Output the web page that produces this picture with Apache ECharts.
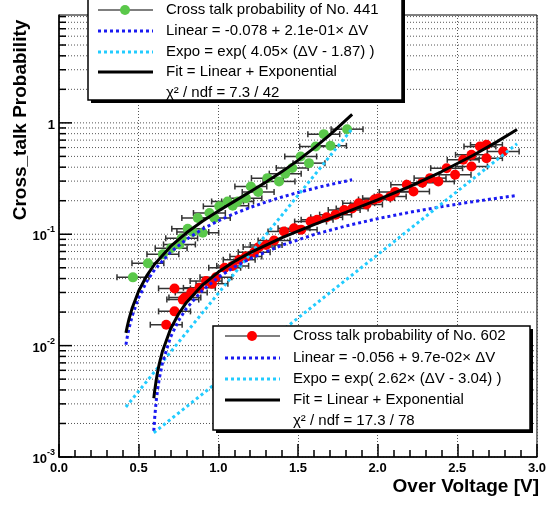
<!DOCTYPE html>
<html>
<head>
<meta charset="utf-8">
<script src="https://cdn.jsdelivr.net/npm/echarts@6/dist/echarts.min.js"></script>
<style>
html, body { margin: 0; padding: 0; background: #fff; }
#chart { width: 549px; height: 505px; }
</style>
</head>
<body>
<div id="chart"></div>
<script>
// axis labels
var xTickLabels = ['0.0', '0.5', '1.0', '1.5', '2.0', '2.5', '3.0'];
var yDecades = [0.001, 0.01, 0.1, 1];
var yDecadeLabels = ['{b|10}{s|-3}', '{b|10}{s|-2}', '{b|10}{s|-1}', '{b|1}'];
var yMax = 9.3;

// measured points [dV, probability], No. 441
var points441 = [
    [0.464, 0.041], [0.558, 0.055], [0.652, 0.066], [0.704, 0.075], [0.756, 0.081],
    [0.770, 0.092], [0.808, 0.112], [0.840, 0.105], [0.871, 0.140], [0.902, 0.103],
    [0.944, 0.155], [0.975, 0.140], [1.006, 0.178], [1.058, 0.197], [1.090, 0.180],
    [1.121, 0.197], [1.173, 0.211], [1.204, 0.268], [1.250, 0.240], [1.308, 0.319],
    [1.381, 0.298], [1.420, 0.350], [1.464, 0.393], [1.517, 0.499], [1.569, 0.435],
    [1.611, 0.613], [1.662, 0.792], [1.704, 0.622], [1.808, 0.878]
];
// measured points, No. 602
var points602 = [
    [0.673, 0.0154], [0.725, 0.0203], [0.725, 0.0326], [0.777, 0.0259], [0.790, 0.0270],
    [0.830, 0.0300], [0.881, 0.0330], [0.923, 0.0380], [0.960, 0.0360], [0.985, 0.0410],
    [1.040, 0.0500], [1.090, 0.0520], [1.131, 0.0590], [1.173, 0.0630], [1.225, 0.0690],
    [1.256, 0.0770], [1.300, 0.0800], [1.350, 0.0880], [1.412, 0.1060], [1.475, 0.1130],
    [1.520, 0.1100], [1.579, 0.1300], [1.620, 0.1350], [1.680, 0.1420], [1.736, 0.1500],
    [1.790, 0.1650], [1.840, 0.1700], [1.881, 0.1900], [1.930, 0.1850], [1.980, 0.2050],
    [2.006, 0.2110], [2.079, 0.2180], [2.110, 0.2400], [2.183, 0.2780], [2.225, 0.2420],
    [2.280, 0.2900], [2.329, 0.3190], [2.381, 0.2980], [2.433, 0.3920], [2.486, 0.3420],
    [2.537, 0.4660], [2.589, 0.4060], [2.589, 0.5160], [2.642, 0.6130], [2.683, 0.6350],
    [2.683, 0.4820], [2.788, 0.5530]
];
var errX441 = 0.1;
var errX602 = 0.1;

// fit curves
var fitX441 = [0.42, 0.43, 0.44, 0.46, 0.50, 0.55, 0.60, 0.70, 0.80, 0.90, 1.00, 1.10, 1.20, 1.30, 1.40, 1.50, 1.60, 1.70, 1.84];
var lin441 = [0.0102, 0.0123, 0.0144, 0.0186, 0.027, 0.0375, 0.048, 0.069, 0.090, 0.111, 0.132, 0.153, 0.174, 0.195, 0.216, 0.237, 0.258, 0.279, 0.3084];
var expo441 = [0.002815, 0.002932, 0.003053, 0.003311, 0.003892, 0.004767, 0.005837, 0.008751, 0.01312, 0.01967, 0.02949, 0.04421, 0.06629, 0.09938, 0.1490, 0.2235, 0.3350, 0.5023, 0.8856];
var fit441 = [0.0130, 0.0152, 0.0175, 0.0219, 0.0309, 0.0423, 0.0538, 0.0778, 0.1031, 0.1307, 0.1615, 0.1972, 0.2403, 0.2944, 0.3650, 0.4605, 0.5930, 0.7813, 1.1940];

var fitX602 = [0.595, 0.60, 0.61, 0.62, 0.63, 0.65, 0.70, 0.75, 0.80, 0.90, 1.00, 1.10, 1.20, 1.40, 1.60, 1.80, 2.00, 2.20, 2.40, 2.60, 2.75, 2.875];
var lin602 = [0.001715, 0.0022, 0.00317, 0.00414, 0.00511, 0.00705, 0.0119, 0.01675, 0.0216, 0.0313, 0.041, 0.0507, 0.0604, 0.0798, 0.0992, 0.1186, 0.138, 0.1574, 0.1768, 0.1962, 0.2108, 0.2229];
var expo602 = [0.001652, 0.001674, 0.001718, 0.001764, 0.001811, 0.001908, 0.002175, 0.002479, 0.002827, 0.003673, 0.004772, 0.006203, 0.008061, 0.01361, 0.02299, 0.03882, 0.06556, 0.1107, 0.1870, 0.3158, 0.4678, 0.6491];
var fit602 = [0.003367, 0.003874, 0.004888, 0.005904, 0.006921, 0.008958, 0.01408, 0.01923, 0.02443, 0.03497, 0.04577, 0.05690, 0.06846, 0.09341, 0.1222, 0.1574, 0.2036, 0.2681, 0.3638, 0.5120, 0.6785, 0.8719];

var FONT = '"Liberation Sans", Arial, Helvetica, sans-serif';
var BLUE = '#1a1af2';
var CYAN = '#22ccff';
var GREEN = '#5ac84a';
var RED = '#ff0000';
var DOTS = [3, 3];

function pairs(xs, ys) {
    return xs.map(function (x, i) { return [x, ys[i]]; });
}

// y grid positions 1..9 x 10^n
var yGridValues = [];
for (var d = -3; d <= 0; d++) {
    for (var m = 1; m <= 9; m++) {
        var v = m * Math.pow(10, d);
        if (v < yMax) yGridValues.push([0, v, m === 1 ? 1 : 0]);
    }
}

function gridItem(params, api) {
    var v = api.value(1), major = api.value(2);
    var a = api.coord([0, v]), b = api.coord([3, v]);
    return {
        type: 'group',
        children: [
            { type: 'line', shape: { x1: a[0], y1: a[1], x2: b[0], y2: b[1] },
              style: { stroke: '#555', lineWidth: 1, lineDash: [1, 2] } },
            { type: 'line', shape: { x1: a[0], y1: a[1], x2: a[0] + (major ? 13 : 7), y2: a[1] },
              style: { stroke: '#000', lineWidth: 1.5 } }
        ]
    };
}

function errItem(params, api) {
    var x = api.value(0), y = api.value(1), e = api.value(2);
    var a = api.coord([x - e, y]), b = api.coord([x + e, y]);
    var cap = 3;
    var st = { stroke: '#333', lineWidth: 1.5 };
    return {
        type: 'group',
        children: [
            { type: 'line', shape: { x1: a[0], y1: a[1], x2: b[0], y2: b[1] }, style: st },
            { type: 'line', shape: { x1: a[0], y1: a[1] - cap, x2: a[0], y2: a[1] + cap }, style: st },
            { type: 'line', shape: { x1: b[0], y1: b[1] - cap, x2: b[0], y2: b[1] + cap }, style: st }
        ]
    };
}

function withErr(pts, e) {
    return pts.map(function (p) { return [p[0], p[1], e]; });
}

function legendBox(x, y, w, h, rows, sampleX0, textX, rowY) {
    var els = [
        { type: 'rect', z: 100, shape: { x: x + 3, y: y + 3, width: w, height: h }, style: { fill: '#000' } },
        { type: 'rect', z: 101, shape: { x: x, y: y, width: w, height: h }, style: { fill: '#fff', stroke: '#000', lineWidth: 1.5 } }
    ];
    rows.forEach(function (r, i) {
        var ry = rowY[i];
        if (r.kind === 'marker') {
            els.push({ type: 'line', z: 102, shape: { x1: sampleX0, y1: ry, x2: sampleX0 + 55, y2: ry }, style: { stroke: '#555', lineWidth: 1.5 } });
            els.push({ type: 'circle', z: 103, shape: { cx: sampleX0 + 27, cy: ry, r: 5 }, style: { fill: r.color } });
        } else if (r.kind === 'dot') {
            els.push({ type: 'line', z: 102, shape: { x1: sampleX0, y1: ry, x2: sampleX0 + 55, y2: ry }, style: { stroke: r.color, lineWidth: 3, lineDash: DOTS } });
        } else if (r.kind === 'solid') {
            els.push({ type: 'line', z: 102, shape: { x1: sampleX0, y1: ry, x2: sampleX0 + 55, y2: ry }, style: { stroke: r.color, lineWidth: 3 } });
        }
        els.push({ type: 'text', z: 103, x: textX, y: ry,
            style: { text: r.text, fontSize: 15, fontFamily: FONT, fill: '#000',
                     align: 'left', verticalAlign: 'middle', textAlign: 'left', textVerticalAlign: 'middle' } });
    });
    return els;
}

var rows441 = [
    { kind: 'marker', color: GREEN, text: 'Cross talk probability of No. 441' },
    { kind: 'dot', color: BLUE, text: 'Linear = -0.078 + 2.1e-01\u00d7 \u0394V' },
    { kind: 'dot', color: CYAN, text: 'Expo = exp( 4.05\u00d7 (\u0394V - 1.87) )' },
    { kind: 'solid', color: '#000', text: 'Fit = Linear + Exponential' },
    { kind: 'none', text: '\u03c7\u00b2 / ndf = 7.3 / 42' }
];
var rows602 = [
    { kind: 'marker', color: RED, text: 'Cross talk probability of No. 602' },
    { kind: 'dot', color: BLUE, text: 'Linear = -0.056 + 9.7e-02\u00d7 \u0394V' },
    { kind: 'dot', color: CYAN, text: 'Expo = exp( 2.62\u00d7 (\u0394V - 3.04) )' },
    { kind: 'solid', color: '#000', text: 'Fit = Linear + Exponential' },
    { kind: 'none', text: '\u03c7\u00b2 / ndf = 17.3 / 78' }
];

var graphics = []
    .concat(legendBox(88, -6, 314, 106, rows441, 98, 166, [10, 31, 52, 72, 93]))
    .concat(legendBox(213, 326, 317, 104, rows602, 225, 293, [336, 358, 379, 400, 421]));
graphics.push({
    type: 'text', x: 21, y: 120, rotation: Math.PI / 2,
    style: { text: 'Cross_talk Probability', fontSize: 19, fontWeight: 'bold', fontFamily: FONT, fill: '#000',
             align: 'center', verticalAlign: 'middle', textAlign: 'center', textVerticalAlign: 'middle' }
});
graphics.push({
    type: 'text', x: 539, y: 487,
    style: { text: 'Over Voltage [V]', fontSize: 19, fontWeight: 'bold', fontFamily: FONT, fill: '#000',
             align: 'right', verticalAlign: 'middle', textAlign: 'right', textVerticalAlign: 'middle' }
});

function lineSeries(xs, ys, color, dash) {
    return {
        type: 'line', data: pairs(xs, ys), showSymbol: false, z: 5,
        lineStyle: { color: color, width: 3, type: dash ? DOTS : 'solid' }
    };
}

var chart = echarts.init(document.getElementById('chart'));
chart.setOption({
    animation: false,
    backgroundColor: '#fff',
    grid: { left: 59, right: 10, top: 15, bottom: 48, show: true, borderColor: '#000', borderWidth: 1 },
    xAxis: {
        type: 'value', min: 0, max: 3, interval: 0.5,
        axisLine: { lineStyle: { color: '#000', width: 1.5 } },
        axisTick: { inside: true, length: 13, lineStyle: { color: '#000', width: 1.5 } },
        minorTick: { show: true, splitNumber: 5, length: 7, lineStyle: { color: '#000', width: 1.5 } },
        splitLine: { show: true, lineStyle: { color: '#555', width: 1, type: [1, 2] } },
        axisLabel: {
            margin: 5, color: '#000', fontSize: 13, fontWeight: 'bold', fontFamily: FONT,
            formatter: function (v) { return xTickLabels[Math.round(v / 0.5)]; }
        }
    },
    yAxis: {
        type: 'log', logBase: 10, min: yDecades[0], max: yMax,
        axisLine: { lineStyle: { color: '#000', width: 1.5 } },
        axisTick: { show: false },
        splitLine: { show: false },
        axisLabel: {
            margin: 4, color: '#000', fontFamily: FONT,
            formatter: function (v) {
                var k = Math.log(v) / Math.LN10;
                if (Math.abs(k - Math.round(k)) > 1e-6) return '';
                var i = -1;
                for (var j = 0; j < yDecades.length; j++) {
                    if (Math.abs(Math.log(yDecades[j]) / Math.LN10 - k) < 1e-6) i = j;
                }
                return i < 0 ? '' : yDecadeLabels[i];
            },
            rich: {
                b: { fontSize: 13, fontWeight: 'bold', fontFamily: FONT, color: '#000', lineHeight: 18, verticalAlign: 'bottom' },
                s: { fontSize: 9, fontWeight: 'bold', fontFamily: FONT, color: '#000', lineHeight: 18, verticalAlign: 'top' }
            }
        }
    },
    graphic: graphics,
    series: [
        { type: 'custom', data: yGridValues, encode: { x: 0, y: 1 }, renderItem: gridItem, z: 0, silent: true },
        { type: 'custom', data: withErr(points441, errX441), encode: { x: 0, y: 1 }, renderItem: errItem, z: 2 },
        { type: 'custom', data: withErr(points602, errX602), encode: { x: 0, y: 1 }, renderItem: errItem, z: 2 },
        { type: 'scatter', data: points441, symbolSize: 10, itemStyle: { color: GREEN, opacity: 1 }, z: 3 },
        { type: 'scatter', data: points602, symbolSize: 10, itemStyle: { color: RED, opacity: 1 }, z: 3 },
        lineSeries(fitX441, lin441, BLUE, true),
        lineSeries(fitX441, expo441, CYAN, true),
        lineSeries(fitX441, fit441, '#000', false),
        lineSeries(fitX602, lin602, BLUE, true),
        lineSeries(fitX602, expo602, CYAN, true),
        lineSeries(fitX602, fit602, '#000', false)
    ]
});
</script>
</body>
</html>
